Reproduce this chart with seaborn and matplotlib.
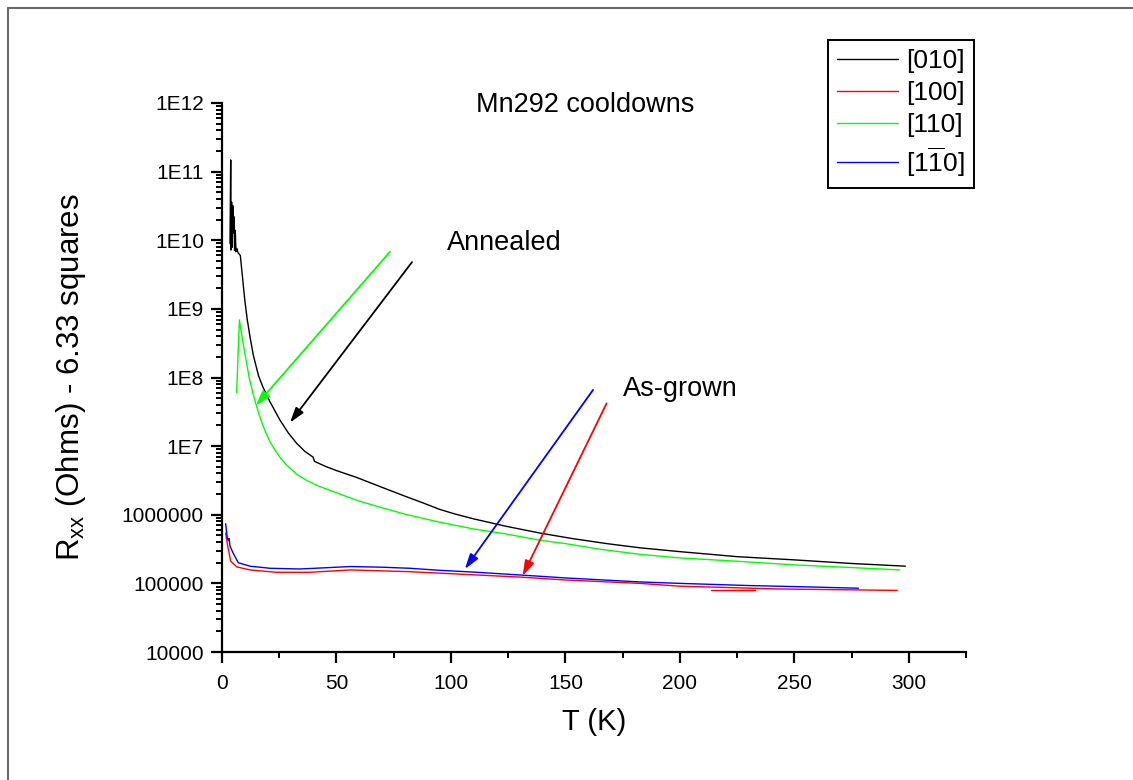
import numpy as np
import pandas as pd
import matplotlib
matplotlib.use("Agg")
import matplotlib.pyplot as plt
from matplotlib.lines import Line2D
from matplotlib.ticker import LogLocator, MultipleLocator, NullFormatter
import seaborn as sns

# ---- cooldown curves: temperature (K) and resistance (Ohm) ----
t_010 = [3.5, 3.8, 3.95, 4.2, 4.45, 4.7, 5.0, 5.25, 5.5, 5.8, 6.1, 6.5, 7.0, 8.0,
         9.0, 10.0, 11.0, 12.3, 13.7, 16.0, 18.0, 21.0, 25.3, 29.0, 32.6, 36.0,
         39.8, 40.4, 45, 50, 58.8, 70, 80, 88, 95, 102, 110, 124, 139, 153, 168,
         182.5, 200, 225, 250, 275, 298.5]
r_010 = [8.9e9, 1.48e11, 7.2e9, 3.6e10, 7.9e9, 3.2e10, 1.26e10, 2.2e10, 7.1e9,
         1.4e10, 6.8e9, 7.6e9, 6.6e9, 6.0e9, 2.8e9, 1.3e9, 7.1e8, 3.8e8, 2.1e8,
         1.05e8, 7.1e7, 4.4e7, 2.4e7, 1.55e7, 1.1e7, 8.5e6, 6.9e6, 6.0e6, 5.1e6,
         4.4e6, 3.5e6, 2.5e6, 1.86e6, 1.48e6, 1.2e6, 1.02e6, 8.7e5, 6.8e5, 5.4e5,
         4.5e5, 3.8e5, 3.3e5, 2.9e5, 2.45e5, 2.2e5, 1.95e5, 1.78e5]

t_100 = [1.6, 2.2, 2.8, 3.8, 6.4, 12.2, 23.9, 38.4, 56, 82, 95, 131, 150,
         182.5, 200, 242, 295]
r_100 = [5.4e5, 4.0e5, 3.1e5, 2.1e5, 1.74e5, 1.57e5, 1.45e5, 1.45e5, 1.57e5,
         1.48e5, 1.41e5, 1.23e5, 1.12e5, 1.0e5, 9.1e4, 8.3e4, 7.9e4]
# short warm-up retrace of the [100] sample
t_100_retrace = [213.5, 233]
r_100_retrace = [7.95e4, 7.95e4]

t_110 = [6.4, 7.6, 9.0, 10.5, 12.0, 13.7, 15.1, 16.6, 18.0, 19.5, 21.0, 23.0,
         25.3, 28.0, 32.6, 37, 42, 50, 60, 70, 80, 95, 110, 124, 139, 150, 165,
         182.5, 200, 225, 250, 275, 296]
r_110 = [6.0e7, 6.9e8, 3.5e8, 1.8e8, 9.5e7, 5.6e7, 3.8e7, 2.63e7, 1.95e7,
         1.48e7, 1.15e7, 8.9e6, 6.9e6, 5.4e6, 3.9e6, 3.16e6, 2.63e6, 2.09e6,
         1.58e6, 1.26e6, 1.02e6, 7.8e5, 6.2e5, 5.25e5, 4.25e5, 3.8e5, 3.15e5,
         2.65e5, 2.35e5, 2.1e5, 1.86e5, 1.7e5, 1.57e5]

t_1m10 = [1.6, 2.3, 2.8, 3.1, 3.5, 4.9, 7.1, 12.2, 21, 34, 47, 56, 70, 82, 95,
          110, 131, 150, 182.5, 200, 230, 255, 278]
r_1m10 = [7.4e5, 4.6e5, 4.2e5, 4.5e5, 3.5e5, 2.75e5, 2.0e5, 1.78e5, 1.66e5,
          1.62e5, 1.7e5, 1.76e5, 1.72e5, 1.66e5, 1.55e5, 1.46e5, 1.32e5, 1.2e5,
          1.05e5, 1.0e5, 9.3e4, 8.9e4, 8.5e4]

series_labels = ["[010]", "[100]", "[110]", r"[1$\overline{1}$0]"]
series_colors = ["#000000", "#ff0000", "#00ff00", "#0000ff"]

x_ticks = [0, 50, 100, 150, 200, 250, 300]
y_ticks = [1e4, 1e5, 1e6, 1e7, 1e8, 1e9, 1e10, 1e11, 1e12]
y_tick_labels = ["10000", "100000", "1000000", "1E7", "1E8", "1E9", "1E10",
                 "1E11", "1E12"]

# ---- style ----
sns.set_style("ticks")
plt.rcParams["font.family"] = ["Liberation Sans", "DejaVu Sans"]
plt.rcParams["mathtext.fontset"] = "custom"
plt.rcParams["mathtext.rm"] = "Liberation Sans"
plt.rcParams["mathtext.it"] = "Liberation Sans:italic"
plt.rcParams["mathtext.bf"] = "Liberation Sans:bold"
plt.rcParams["mathtext.default"] = "regular"
for key in ("text.color", "axes.labelcolor", "xtick.color", "ytick.color",
            "axes.edgecolor"):
    plt.rcParams[key] = "black"

W, H = 1133, 780
fig = plt.figure(figsize=(W / 100, H / 100), dpi=100)
ax = fig.add_axes([222 / W, 1 - 652 / H, (966 - 222) / W, (652 - 103) / H])

frames = []
def add_curve(label, seg, t, r):
    frames.append(pd.DataFrame({"T": t, "R": r, "series": label, "segment": seg}))

add_curve(series_labels[0], 0, t_010, r_010)
add_curve(series_labels[1], 1, t_100, r_100)
add_curve(series_labels[1], 2, t_100_retrace, r_100_retrace)
add_curve(series_labels[2], 3, t_110, r_110)
add_curve(series_labels[3], 4, t_1m10, r_1m10)
df = pd.concat(frames, ignore_index=True)

palette = dict(zip(series_labels, series_colors))
sns.lineplot(data=df, x="T", y="R", hue="series", hue_order=series_labels,
             units="segment", estimator=None, sort=False, palette=palette,
             linewidth=1.0, legend=True, ax=ax)

ax.set_yscale("log")
ax.set_xlim(0, 325)
ax.set_ylim(1e4, 1e12)
ax.set_xticks(x_ticks)
ax.xaxis.set_minor_locator(MultipleLocator(25))
ax.set_yticks(y_ticks, y_tick_labels)
ax.yaxis.set_minor_locator(LogLocator(base=10, subs=np.arange(2, 10), numticks=50))
ax.yaxis.set_minor_formatter(NullFormatter())

sns.despine(ax=ax)
for side in ("left", "bottom"):
    ax.spines[side].set_linewidth(1.6)
    ax.spines[side].set_color("black")
ax.tick_params(axis="both", which="major", direction="out", length=8, width=1.6,
               labelsize=15, colors="black")
ax.tick_params(axis="both", which="minor", direction="out", length=4.5, width=1.4,
               colors="black")
ax.tick_params(axis="x", which="major", pad=8)
ax.tick_params(axis="y", which="major", pad=5)

ax.set_xlabel("T (K)", fontsize=21, labelpad=11)
ax.set_ylabel(r"R$_{xx}$ (Ohms) - 6.33 squares", fontsize=22.5)
ax.yaxis.set_label_coords(-0.18, 0.5)

# ---- annotations ----
ax.text(110.9, 7.4e11, "Mn292 cooldowns", fontsize=19.5, va="baseline")
ax.text(98.3, 7.2e9, "Annealed", fontsize=19.5, va="baseline")
ax.text(175.1, 5.3e7, "As-grown", fontsize=19.5, va="baseline")

arrows = [
    ((73.4, 6.8e9), (14.8, 3.9e7), "#00ff00"),
    ((83.0, 4.8e9), (29.7, 2.2e7), "#000000"),
    ((162.1, 6.6e7), (106.1, 1.62e5), "#0000ff"),
    ((168.0, 4.2e7), (131.3, 1.29e5), "#ff0000"),
]
for start, tip, col in arrows:
    ax.annotate("", xy=tip, xytext=start,
                arrowprops=dict(arrowstyle="-|>,head_length=0.7,head_width=0.22",
                                color=col, lw=1.3, shrinkA=0, shrinkB=0,
                                mutation_scale=13))

# ---- legend ----
old = ax.get_legend()
handles = list(old.legend_handles)
old.remove()
for h in handles:
    h.set_linewidth(1.0)
leg = fig.legend(handles, series_labels, loc="upper right",
                 bbox_to_anchor=(974 / W, 1 - 40 / H), bbox_transform=fig.transFigure,
                 fontsize=19, frameon=True, fancybox=False, shadow=False,
                 handlelength=2.3, handletextpad=0.3, labelspacing=0.3,
                 borderpad=0.35, borderaxespad=0)
leg.get_frame().set_edgecolor("black")
leg.get_frame().set_linewidth(1.4)
leg.get_frame().set_alpha(1)

# ---- page frame ----
fig.add_artist(Line2D([8 / W, 8 / W], [0, 1 - 8 / H], transform=fig.transFigure,
                      color="#6a6a6a", lw=1.5))
fig.add_artist(Line2D([8 / W, 1], [1 - 8 / H, 1 - 8 / H], transform=fig.transFigure,
                      color="#6a6a6a", lw=1.5))

fig.savefig("out.png", dpi=100, facecolor="white")
